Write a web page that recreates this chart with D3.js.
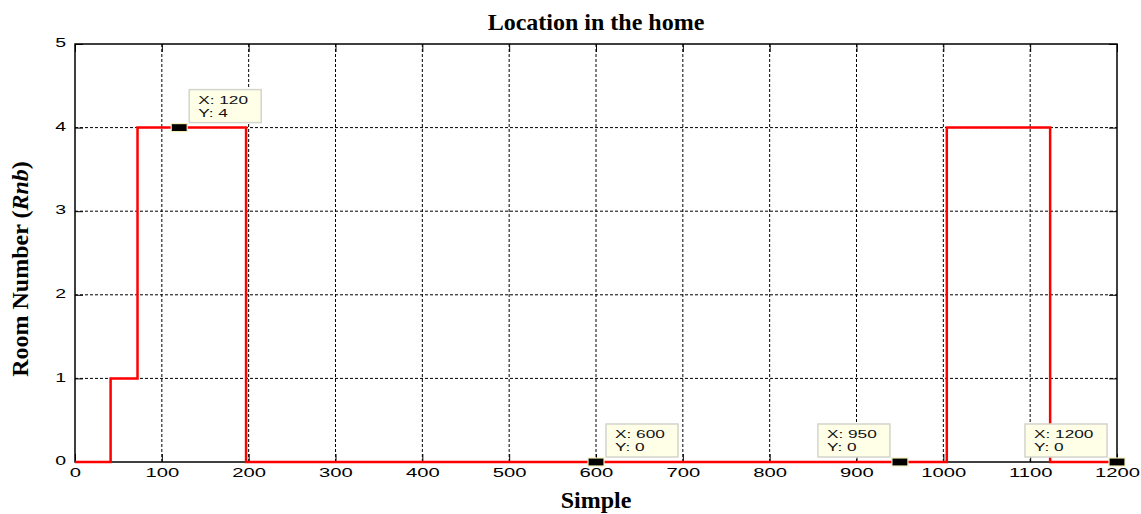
<!DOCTYPE html>
<html>
<head>
<meta charset="utf-8">
<script src="https://cdn.jsdelivr.net/npm/d3@7"></script>
<style>
  body { margin: 0; background: #fff; }
  svg { display: block; }
</style>
</head>
<body>
<div id="graph"></div>
<script>
const w = 1141;
const h = 514;
const m = { top: 44, right: 24, bottom: 52, left: 75 };

// step changes of the room number
const sampleX = [0, 41, 72, 197, 1004, 1123, 1200];
const roomY = [0, 1, 4, 0, 4, 0, 0];
// data tips
const tipX = [120, 600, 950, 1200];
const tipY = [4, 0, 0, 0];
const tipSide = ["right", "right", "left", "left"];
const xTicks = [0, 100, 200, 300, 400, 500, 600, 700, 800, 900, 1000, 1100, 1200];
const yTicks = [0, 1, 2, 3, 4, 5];

const sans = "Liberation Sans, Arial, sans-serif";
const serif = "Liberation Serif, Times New Roman, serif";

const svg = d3.select("#graph").append("svg").attr("width", w).attr("height", h);
const x = d3.scaleLinear().domain([0, 1200]).range([m.left, w - m.right]);
const y = d3.scaleLinear().domain([0, 5]).range([h - m.bottom, m.top]);

// grid
svg.append("g")
  .selectAll("line")
  .data(xTicks.slice(1, -1))
  .enter()
  .append("line")
  .attr("x1", (d) => x(d)).attr("x2", (d) => x(d))
  .attr("y1", y(5)).attr("y2", y(0))
  .attr("stroke", "#000").attr("stroke-width", 1).attr("stroke-dasharray", "3,2");
svg.append("g")
  .selectAll("line")
  .data(yTicks.slice(1, -1))
  .enter()
  .append("line")
  .attr("x1", x(0)).attr("x2", x(1200))
  .attr("y1", (d) => y(d)).attr("y2", (d) => y(d))
  .attr("stroke", "#000").attr("stroke-width", 1).attr("stroke-dasharray", "3,2");

// axes, MATLAB style ticks pointing in
svg.append("g")
  .attr("transform", `translate(0,${y(0)})`)
  .call(d3.axisBottom(x).tickValues(xTicks).tickFormat(d3.format("d")).tickSize(-8).tickSizeOuter(0))
  .call((g) => g.select(".domain").remove())
  .call((g) => g.selectAll("text")
    .attr("font-family", sans).attr("font-size", 13.5).attr("fill", "#000")
    .attr("y", 5).attr("dy", "0.71em")
    .attr("transform", "scale(1.5,1)"));
svg.append("g")
  .attr("transform", `translate(${x(0)},0)`)
  .call(d3.axisLeft(y).tickValues(yTicks).tickFormat(d3.format("d")).tickSize(-8).tickSizeOuter(0))
  .call((g) => g.select(".domain").remove())
  .call((g) => g.selectAll("text")
    .attr("font-family", sans).attr("font-size", 13).attr("fill", "#000")
    .attr("x", -6).attr("dy", "0.2em")
    .attr("transform", "scale(1.5,1)"));
svg.append("g")
  .attr("transform", `translate(${x(1200)},0)`)
  .call(d3.axisRight(y).tickValues(yTicks).tickSize(-8).tickFormat("").tickSizeOuter(0))
  .call((g) => g.select(".domain").remove());
svg.append("g")
  .attr("transform", `translate(0,${y(5)})`)
  .call(d3.axisTop(x).tickValues(xTicks).tickSize(-8).tickFormat("").tickSizeOuter(0))
  .call((g) => g.select(".domain").remove());

svg.append("rect")
  .attr("x", x(0)).attr("y", y(5))
  .attr("width", x(1200) - x(0)).attr("height", y(0) - y(5))
  .attr("fill", "none").attr("stroke", "#000").attr("stroke-width", 1.5);

// line
const pts = sampleX.map((d, i) => [d, roomY[i]]);
svg.append("path")
  .datum(pts)
  .attr("d", d3.line().x((d) => x(d[0])).y((d) => y(d[1])).curve(d3.curveStepAfter))
  .attr("fill", "none").attr("stroke", "#ff0000").attr("stroke-width", 2.5);

// data tips
const tips = svg.append("g");
tipX.forEach((tx, i) => {
  const px = x(tx);
  const py = y(tipY[i]);
  const bw = tx >= 1000 ? 82 : 72;
  const bx = tipSide[i] === "right" ? px + 10 : px - 10 - bw;
  const by = py - 38;
  tips.append("rect")
    .attr("x", bx).attr("y", by).attr("width", bw).attr("height", 33)
    .attr("fill", "#ffffe8").attr("stroke", "#d4d4cc").attr("stroke-width", 1.5);
  [`X: ${tx}`, `Y: ${tipY[i]}`].forEach((t, j) => {
    tips.append("text")
      .attr("transform", `translate(${bx + 9},${by + 14 + j * 13}) scale(1.5,1)`)
      .attr("font-family", sans).attr("font-size", 11.5).attr("fill", "#111")
      .text(t);
  });
  tips.append("rect")
    .attr("x", px - 8).attr("y", py - 4).attr("width", 16).attr("height", 8)
    .attr("fill", "#000").attr("stroke", "#f3eeb8").attr("stroke-width", 1.2);
});

// labels
svg.append("text")
  .attr("x", (x(0) + x(1200)) / 2).attr("y", 30)
  .attr("text-anchor", "middle")
  .attr("font-family", serif).attr("font-weight", "bold").attr("font-size", 24)
  .text("Location in the home");
svg.append("text")
  .attr("x", (x(0) + x(1200)) / 2).attr("y", 508)
  .attr("text-anchor", "middle")
  .attr("font-family", serif).attr("font-weight", "bold").attr("font-size", 24)
  .text("Simple");
const yl = svg.append("text")
  .attr("transform", `translate(28,269) rotate(-90)`)
  .attr("text-anchor", "middle")
  .attr("font-family", serif).attr("font-weight", "bold").attr("font-size", 24);
yl.append("tspan").text("Room Number (");
yl.append("tspan").attr("font-style", "italic").text("Rnb");
yl.append("tspan").text(")");
</script>
</body>
</html>
